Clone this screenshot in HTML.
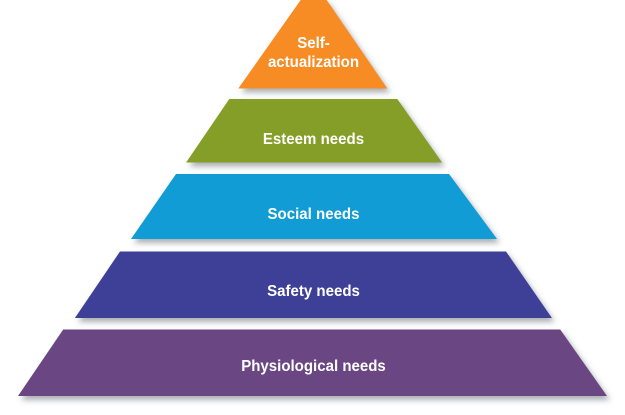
<!DOCTYPE html>
<html>
<head>
<meta charset="utf-8">
<style>
html,body{margin:0;padding:0;background:#fff;width:625px;height:415px;overflow:hidden}
svg{display:block}
text{font-family:"Liberation Sans",sans-serif;font-weight:700;fill:#fff;text-anchor:middle}
</style>
</head>
<body>
<svg id="chart" xmlns="http://www.w3.org/2000/svg" width="625" height="415" viewBox="0 0 625 415">
<defs>
<filter id="tier-shadow" x="-10%" y="-20%" width="120%" height="160%">
<feGaussianBlur stdDeviation="3"/>
</filter>
</defs>
</svg>
<script>
const tierNames = ["self-actualization", "esteem-needs", "social-needs", "safety-needs", "physiological-needs"];
const tierLabelLines = [["Self-", "actualization"], ["Esteem needs"], ["Social needs"], ["Safety needs"], ["Physiological needs"]];
const tierColors = ["#f78c24", "#849e27", "#119cd5", "#3e4098", "#6a4782"];
const tierTopLevels = [0, 99, 174, 251.5, 329.5];
const tierBottomLevels = [88.5, 162.5, 239, 318, 396];
const tierTopWidths = [26, 168, 273, 386, 497];
const tierBottomWidths = [149, 256, 366, 477, 589];
const tierTopOffsets = [0.7, 0.3, -0.5, 0, -1.3];
const tierBottomOffsets = [-0.2, 1.1, 1, 0.4, -0.5];
const tierBaselines = [[48, 67], [144], [219], [296], [371]];

const svgNS = "http://www.w3.org/2000/svg";
const chart = document.getElementById("chart");
const centerX = 313;
const xLeft = function (w, off) { return centerX + off - w / 2; };
const xRight = function (w, off) { return centerX + off + w / 2; };
const yAxis = function (v) { return v; };

function tierPoints(i, dx, dy) {
  const top = yAxis(tierTopLevels[i]) + dy;
  const bottom = yAxis(tierBottomLevels[i]) + dy;
  return [
    (xLeft(tierTopWidths[i], tierTopOffsets[i]) + dx) + "," + top,
    (xRight(tierTopWidths[i], tierTopOffsets[i]) + dx) + "," + top,
    (xRight(tierBottomWidths[i], tierBottomOffsets[i]) + dx) + "," + bottom,
    (xLeft(tierBottomWidths[i], tierBottomOffsets[i]) + dx) + "," + bottom
  ].join(" ");
}

tierNames.forEach(function (name, i) {
  const shadow = document.createElementNS(svgNS, "polygon");
  shadow.setAttribute("points", tierPoints(i, 3, 4));
  shadow.setAttribute("fill", "#56606a");
  shadow.setAttribute("fill-opacity", "0.5");
  shadow.setAttribute("filter", "url(#tier-shadow)");
  
  
  chart.appendChild(shadow);

  const tier = document.createElementNS(svgNS, "polygon");
  tier.setAttribute("points", tierPoints(i, 0, 0));
  tier.setAttribute("fill", tierColors[i]);
  
  
  chart.appendChild(tier);
});

tierNames.forEach(function (name, i) {
  tierLabelLines[i].forEach(function (line, j) {
    const label = document.createElementNS(svgNS, "text");
    label.setAttribute("x", centerX + 0.5);
    label.setAttribute("y", tierBaselines[i][j]);
    label.setAttribute("font-size", "16");
    label.textContent = line;
    
    
    chart.appendChild(label);
    label.setAttribute("textLength", (label.getComputedTextLength() * 0.94).toFixed(1));
    label.setAttribute("lengthAdjust", "spacingAndGlyphs");
  });
});
</script>
</body>
</html>
